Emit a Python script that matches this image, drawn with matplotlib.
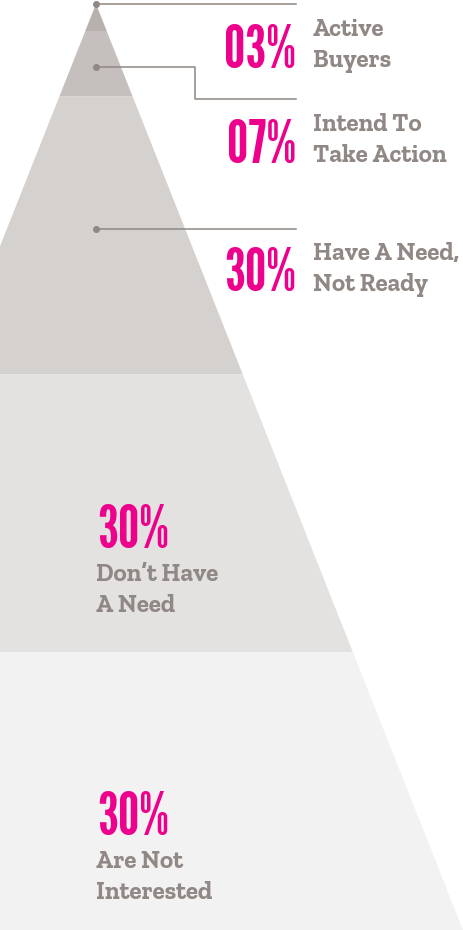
import matplotlib
matplotlib.use('Agg')
import matplotlib.pyplot as plt
import numpy as np

# data
shares = [3, 7, 30, 30, 30]
pct_labels = ['03%', '07%', '30%', '30%', '30%']
names = [['Active', 'Buyers'], ['Intend To', 'Take Action'], ['Have A Need,', 'Not Ready'],
         ['Don\u2019t Have', 'A Need'], ['Are Not', 'Interested']]
band_colors = ['#b7b0ad', '#c5c0bd', '#d5d1ce', '#e3e2e0', '#f2f2f2']

PINK = '#ec008c'
GREY = '#8f8884'

W, H = 463, 930
fig = plt.figure(figsize=(W / 100, H / 100), dpi=100)
ax = fig.add_axes([0, 0, 1, 1])
ax.set_xlim(0, W)
ax.set_ylim(H, 0)
ax.axis('off')

# pyramid: apex, px per percent, widening per px
apex_x, apex_y = 96, 4
unit = (H - apex_y) / sum(shares)
slope = (W - apex_x) / (H - apex_y)

cum = np.concatenate([[0], np.cumsum(shares)])
for i, c in enumerate(band_colors):
    y0 = apex_y + cum[i] * unit
    y1 = apex_y + cum[i + 1] * unit
    hw0 = (y0 - apex_y) * slope
    hw1 = (y1 - apex_y) * slope
    ax.fill([apex_x - hw0, apex_x + hw0, apex_x + hw1, apex_x - hw1],
            [y0, y0, y1, y1], color=c, lw=0, zorder=1)

# connectors for the three small bands
dot_depth = [0, 6.8, 24.3]
for k, d in enumerate(dot_depth):
    yd = apex_y + d * unit
    ax.plot(apex_x, yd, 'o', color=GREY, ms=4, zorder=3)
    if k == 1:
        ax.plot([apex_x, 195, 195, 296], [yd, yd, 99, 99], color=GREY, lw=1.1, zorder=2)
    else:
        ax.plot([apex_x, 296], [yd, yd], color=GREY, lw=1.1, zorder=2)

# labels (baselines in px)
pct_pos = [(296, 68), (296, 163), (296, 291), (97, 548), (97, 835)]
name_pos = [(313, 36), (313, 131), (313, 260), (96, 581), (96, 868)]
line_gap = 31
for i in range(len(shares)):
    px, py = pct_pos[i]
    ha = 'right' if i < 3 else 'left'
    ax.text(px, py, pct_labels[i], color=PINK, fontsize=43, family=['League Gothic', 'DejaVu Sans'],
            ha=ha, va='baseline', zorder=4)
    nx, ny = name_pos[i]
    for j, line in enumerate(names[i]):
        ax.text(nx, ny + j * line_gap, line, color=GREY, fontsize=18, fontweight='bold',
                family=['Zilla Slab', 'DejaVu Serif'], ha='left', va='baseline', zorder=4)

fig.savefig('out.png', dpi=100)
